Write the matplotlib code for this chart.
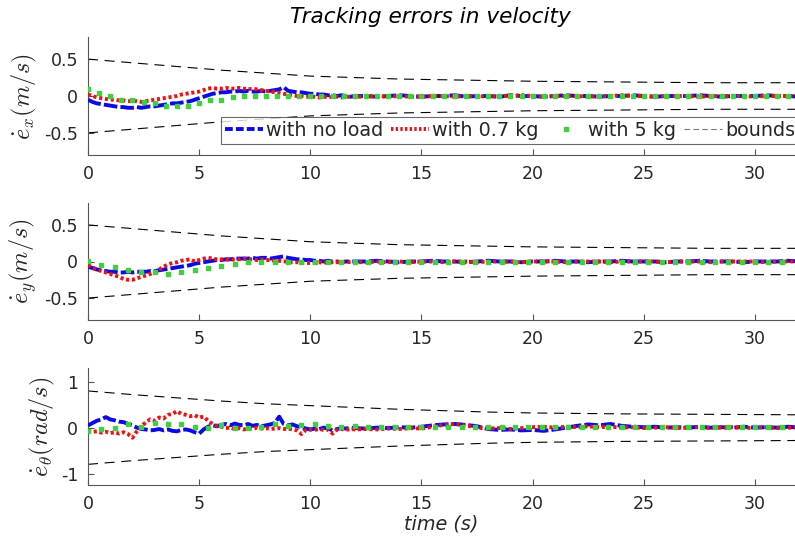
import numpy as np
import matplotlib
matplotlib.use("Agg")
import matplotlib.pyplot as plt
from matplotlib.lines import Line2D

plt.rcParams['mathtext.fontset'] = 'cm'
plt.rcParams['axes.unicode_minus'] = False
plt.rcParams['font.family'] = ['DejaVu Sans']

# ---------------- data ----------------
# time grid of the measured signals (0-12 s every 0.2 s, then every 0.5 s)
t_line = np.concatenate([np.arange(0, 12.001, 0.2), np.arange(12.5, 32.001, 0.5)])
t_green1 = np.arange(0, 31.51, 0.5)
t_green23 = np.arange(0, 31.21, 0.6)

# bounds (upper, lower is mirrored)
t_bound = [0, 2, 4, 6, 8, 10, 12, 14, 16, 18, 20, 24, 28, 32]
bound_v = [0.5, 0.45, 0.40, 0.35, 0.31, 0.27, 0.25, 0.23, 0.22, 0.21, 0.20, 0.19, 0.18, 0.18]
bound_w = [0.8, 0.72, 0.65, 0.58, 0.52, 0.48, 0.44, 0.40, 0.37, 0.34, 0.32, 0.30, 0.29, 0.28]

# e_x
ex_noload = [-0.05, -0.08, -0.10, -0.11, -0.12, -0.13, -0.14, -0.15, -0.15, -0.16, -0.16,
             -0.15, -0.16, -0.15, -0.14, -0.14, -0.13, -0.12, -0.11, -0.10, -0.10,
             -0.09, -0.08, -0.07, -0.05, -0.03, -0.01, 0.01, 0.03, 0.04, 0.05,
             0.05, 0.06, 0.06, 0.07, 0.06, 0.07, 0.06, 0.06, 0.07, 0.06,
             0.07, 0.08, 0.09, 0.12, 0.07, 0.06, 0.05, 0.05, 0.04, 0.03,
             0.03, 0.02, 0.02, 0.01, 0.01, 0.0, 0.01, 0.0, -0.01, 0.0,
             0.0, -0.01, 0.0, 0.01, 0.0, -0.01, 0.0, 0.0, 0.01, -0.01,
             0.0, 0.0, -0.01, 0.01, 0.0, 0.0, -0.01, 0.0, 0.01, 0.0,
             0.0, -0.01, 0.0, 0.0, 0.01, 0.0, -0.01, 0.0, 0.0, 0.0,
             0.01, 0.0, -0.01, 0.0, 0.0, 0.0, 0.01, 0.0, 0.0, -0.01]
ex_07kg = [0.02, 0.0, -0.02, -0.03, -0.04, -0.05, -0.05, -0.06, -0.06, -0.07, -0.07,
           -0.07, -0.08, -0.07, -0.06, -0.05, -0.04, -0.03, -0.02, -0.01, 0.0,
           0.02, 0.03, 0.04, 0.05, 0.06, 0.08, 0.10, 0.11, 0.10, 0.10,
           0.11, 0.10, 0.10, 0.11, 0.10, 0.09, 0.10, 0.09, 0.08, 0.07,
           0.06, 0.05, 0.04, 0.03, 0.02, 0.01, 0.0, 0.0, -0.01, -0.01,
           -0.01, -0.02, -0.01, -0.02, -0.01, -0.01, -0.02, -0.01, -0.01, -0.01,
           -0.01, 0.0, -0.01, 0.0, -0.01, -0.01, 0.0, 0.0, -0.01, 0.0,
           0.0, -0.01, 0.0, 0.0, 0.01, 0.0, -0.01, 0.0, 0.0, 0.0,
           -0.01, 0.0, 0.0, 0.01, 0.0, 0.0, -0.01, 0.0, 0.0, 0.0,
           -0.01, 0.0, 0.0, 0.0, 0.0, -0.01, 0.0, 0.0, 0.0, 0.0]
ex_5kg = [0.09, 0.04, 0.0, -0.06, -0.06, -0.08, -0.10, -0.14, -0.13, -0.13,
          -0.09, -0.06, -0.05, -0.01, 0.0, 0.0, 0.0, 0.0, 0.0, 0.0,
          0.0, 0.0, 0.0, 0.0, 0.0, 0.0, 0.0, 0.0, 0.0, 0.0,
          0.0, 0.0, 0.0, 0.0, 0.0, 0.0, 0.0, 0.0, 0.0, 0.0,
          0.0, 0.0, 0.0, 0.0, 0.0, 0.0, 0.0, 0.0, 0.0, 0.0,
          0.0, 0.0, 0.0, 0.0, 0.0, 0.0, 0.0, 0.0, 0.0, 0.0,
          0.0, 0.0, 0.0, 0.0]

# e_y
ey_noload = [-0.07, -0.09, -0.11, -0.12, -0.13, -0.14, -0.14, -0.15, -0.15, -0.14, -0.15,
             -0.14, -0.14, -0.14, -0.13, -0.13, -0.12, -0.11, -0.10, -0.09, -0.08,
             -0.07, -0.06, -0.05, -0.03, -0.02, -0.01, 0.0, 0.01, 0.02, 0.02,
             0.03, 0.03, 0.04, 0.04, 0.04, 0.04, 0.05, 0.04, 0.05, 0.05,
             0.04, 0.05, 0.06, 0.07, 0.05, 0.04, 0.03, 0.03, 0.02, 0.02,
             0.01, 0.01, 0.0, 0.01, 0.0, 0.0, -0.01, 0.0, 0.0, 0.0,
             0.0, 0.01, 0.0, -0.01, 0.0, 0.0, 0.01, 0.0, 0.0, -0.01,
             0.0, 0.01, 0.0, 0.0, -0.01, 0.0, 0.0, 0.01, 0.0, 0.0,
             -0.01, 0.0, 0.0, 0.01, 0.0, 0.0, 0.0, -0.01, 0.0, 0.0,
             0.01, 0.0, 0.0, 0.0, -0.01, 0.0, 0.0, 0.0, 0.01, 0.0]
ey_07kg = [-0.05, -0.08, -0.11, -0.13, -0.15, -0.17, -0.19, -0.21, -0.24, -0.25, -0.25,
           -0.23, -0.21, -0.19, -0.17, -0.14, -0.11, -0.07, -0.04, -0.02, -0.01,
           0.01, 0.02, 0.03, 0.0, 0.02, 0.04, 0.05, 0.04, 0.03, 0.03,
           0.03, 0.02, 0.03, 0.03, 0.04, 0.03, 0.03, 0.02, 0.03, 0.02,
           0.02, 0.01, 0.01, 0.0, 0.0, -0.01, -0.01, -0.02, -0.02, -0.02,
           -0.02, -0.01, -0.02, -0.01, -0.01, -0.01, -0.01, 0.0, -0.01, -0.01,
           -0.01, 0.0, -0.01, 0.0, -0.01, 0.0, 0.0, -0.01, 0.0, 0.0,
           -0.01, 0.0, 0.0, 0.0, -0.01, 0.0, 0.0, 0.0, -0.01, 0.0,
           0.0, 0.0, -0.01, 0.0, 0.0, 0.0, 0.0, -0.01, 0.0, 0.0,
           0.0, -0.01, 0.0, 0.0, 0.0, 0.0, -0.01, 0.0, 0.0, 0.0]
ey_5kg = [0.01, -0.05, -0.07, -0.11, -0.145, -0.15, -0.17, -0.145, -0.11, -0.09,
          -0.06, -0.03, 0.0, 0.0, 0.0, 0.0, 0.0, 0.0, 0.0, 0.0,
          0.0, 0.0, 0.0, 0.0, 0.0, 0.0, 0.0, 0.0, 0.0, 0.0,
          0.0, 0.0, 0.0, 0.0, 0.0, 0.0, 0.0, 0.0, 0.0, 0.0,
          0.0, 0.0, 0.0, 0.0, 0.0, 0.0, 0.0, 0.0, 0.0, 0.0,
          0.0, 0.0, 0.0]

# e_theta
eth_noload = [0.05, 0.10, 0.15, 0.18, 0.23, 0.18, 0.16, 0.13, 0.12, 0.08, 0.05,
              0.0, -0.03, -0.04, -0.06, -0.05, -0.03, -0.06, -0.04, -0.07, -0.08,
              -0.05, -0.04, -0.06, -0.10, -0.13, -0.04, 0.02, 0.05, 0.03, 0.06,
              0.08, 0.05, 0.09, 0.06, 0.05, 0.08, 0.04, 0.06, 0.03, 0.05,
              0.07, 0.10, 0.24, 0.08, 0.05, 0.07, 0.03, 0.01, -0.02, -0.04,
              -0.02, -0.03, 0.0, -0.02, -0.06, -0.03, -0.01, -0.02, 0.0, -0.01,
              -0.02, 0.0, -0.01, 0.01, 0.0, 0.02, 0.05, 0.07, 0.08, 0.06,
              0.03, -0.03, -0.05, -0.04, -0.06, -0.05, -0.07, -0.04, 0.0, 0.04,
              0.07, 0.05, 0.08, 0.04, 0.02, 0.01, 0.02, 0.0, 0.01, 0.0,
              0.02, 0.0, 0.01, 0.0, 0.02, 0.0, 0.01, 0.0, 0.02, 0.0]
eth_07kg = [-0.07, -0.09, -0.08, -0.11, -0.09, -0.12, -0.10, -0.13, -0.10, -0.14, -0.22,
            -0.08, 0.02, 0.12, 0.18, 0.15, 0.22, 0.20, 0.28, 0.30, 0.36,
            0.30, 0.28, 0.25, 0.27, 0.22, 0.24, 0.15, 0.08, 0.04, 0.02,
            -0.01, 0.0, -0.03, -0.01, -0.04, -0.02, -0.03, 0.0, -0.02, -0.01,
            -0.03, -0.02, -0.01, -0.03, -0.02, -0.04, -0.06, -0.14, -0.05, -0.04,
            -0.05, -0.03, -0.05, -0.04, -0.13, -0.04, -0.03, -0.05, -0.03, -0.04,
            -0.03, -0.04, -0.02, -0.03, -0.01, -0.02, 0.02, 0.06, 0.08, 0.05,
            0.0, -0.02, -0.01, -0.03, -0.01, 0.01, 0.02, 0.0, 0.02, 0.01,
            0.03, 0.01, 0.02, 0.0, 0.01, -0.01, 0.0, 0.01, -0.01, 0.0,
            0.01, -0.01, 0.0, 0.01, -0.01, 0.0, 0.01, -0.01, 0.0, 0.0]
eth_5kg = [-0.07, -0.02, 0.0, 0.07, 0.02, 0.11, 0.07, 0.09, 0.02, -0.01,
           0.05, 0.0, 0.0, 0.02, 0.07, 0.03, 0.05, 0.07, 0.04, 0.02,
           0.03, 0.01, 0.02, 0.02, 0.01, 0.02, 0.01, 0.02, 0.02, 0.01,
           0.02, 0.01, 0.02, 0.01, 0.02, 0.02, 0.01, 0.02, 0.01, 0.02,
           0.01, 0.02, 0.02, 0.01, 0.02, 0.01, 0.02, 0.01, 0.02, 0.02,
           0.01, 0.02, 0.01]

labels = ['with no load', 'with 0.7 kg', 'with 5 kg', 'bounds']
ylabels = [r'$\dot{e}_x(m/s)$', r'$\dot{e}_y(m/s)$', r'$\dot{e}_\theta(rad/s)$']

# ---------------- styling ----------------
C_BLUE = '#0a0ae6'
C_RED = '#ee1111'
C_GREEN = '#3fcf3f'
TXT = '#262626'
AX = '#555555'

W, H = 795, 543
fig = plt.figure(figsize=(W / 100, H / 100), dpi=100)

def box(top, bottom, left=88, right=795):
    return [left / W, 1 - bottom / H, (right - left) / W, (bottom - top) / H]

axes = [fig.add_axes(box(37, 155)), fig.add_axes(box(203, 320)), fig.add_axes(box(368, 485))]

series = [
    (ex_noload, ex_07kg, ex_5kg, t_green1, bound_v, (-0.8, 0.8), [-0.5, 0, 0.5], ['-0.5', '0', '0.5']),
    (ey_noload, ey_07kg, ey_5kg, t_green23, bound_v, (-0.8, 0.8), [-0.5, 0, 0.5], ['-0.5', '0', '0.5']),
    (eth_noload, eth_07kg, eth_5kg, t_green23, bound_w, (-1.25, 1.3), [-1, 0, 1], ['-1', '0', '1']),
]

label_x = [39, 39, 57]
for i, (ax, (b, r, g, tg, bd, yl, yt, ytl)) in enumerate(zip(axes, series)):
    bd = np.array(bd)
    ax.plot(t_bound, bd, color='black', lw=0.8, ls=(0, (9, 6)), zorder=2)
    ax.plot(t_bound, -bd, color='black', lw=0.8, ls=(0, (9, 6)), zorder=2)
    ax.plot(t_line, b, color=C_BLUE, lw=2.8, ls=(0, (3.5, 0.8)), zorder=3)
    ax.plot(t_line, r, color=C_RED, lw=2.8, ls=(0, (0.8, 0.7)), zorder=4)
    ax.plot(tg, g, ls='none', marker='s', ms=3.4, mfc=C_GREEN, mec=C_GREEN, zorder=5)
    ax.set_xlim(0, 31.8)
    ax.set_ylim(*yl)
    ax.set_yticks(yt)
    ax.set_yticklabels(ytl)
    ax.set_xticks([0, 5, 10, 15, 20, 25, 30])
    for s in ['top', 'right']:
        ax.spines[s].set_visible(False)
    for s in ['left', 'bottom']:
        ax.spines[s].set_color(AX)
        ax.spines[s].set_linewidth(0.8)
    ax.tick_params(direction='in', length=4.5, width=0.8, color=AX,
                   labelsize=12.5, labelcolor=TXT, pad=7)
    ax.set_ylabel(ylabels[i], fontsize=17.5, color=TXT)
    ax.yaxis.set_label_coords((label_x[i] - 88) / (795 - 88), 0.5)

axes[2].set_xlabel('time (s)', fontsize=13.8, style='italic', color=TXT, labelpad=1)
fig.text(430 / W, 1 - 17 / H, 'Tracking errors in velocity', fontsize=15.6,
         style='italic', color='black', ha='center', va='center')

handles = [
    Line2D([], [], color=C_BLUE, lw=2.8, ls=(0, (2.0, 0.8))),
    Line2D([], [], color=C_RED, lw=2.8, ls=(0, (0.6, 0.6))),
    Line2D([], [], ls='none', marker='s', ms=3.4, mfc=C_GREEN, mec=C_GREEN),
    Line2D([], [], color='#777777', lw=0.8, ls=(0, (5, 3))),
]
leg = fig.legend(handles, labels, loc='upper left', bbox_to_anchor=(221 / W, 1 - 117 / H),
                 ncol=4, frameon=True, fancybox=False, fontsize=13.8, numpoints=1,
                 handlelength=1.98, handletextpad=0.16, columnspacing=0.42,
                 borderpad=0.2, borderaxespad=0.0)
leg.get_frame().set_edgecolor('#444444')
leg.get_frame().set_linewidth(0.8)
for txt in leg.get_texts():
    txt.set_color(TXT)

fig.savefig('out.png', dpi=100)
